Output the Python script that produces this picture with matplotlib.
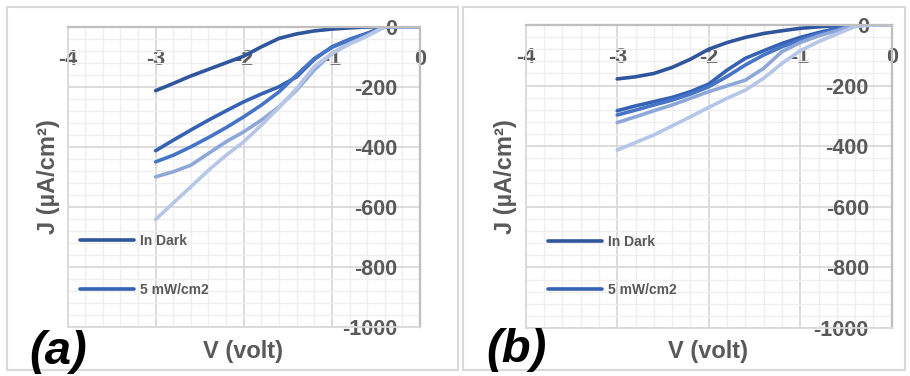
import matplotlib
matplotlib.use("Agg")
import matplotlib.pyplot as plt
from matplotlib.patches import Rectangle
from matplotlib.ticker import MultipleLocator

plt.rcParams['font.family'] = ['Liberation Sans', 'DejaVu Sans']
plt.rcParams['font.weight'] = 'bold'

# Bias voltage (V), shared by every curve
volts = [-3.0, -2.8, -2.6, -2.4, -2.2, -2.0, -1.8, -1.6, -1.4, -1.2,
         -1.0, -0.8, -0.6, -0.4, -0.2, 0.0]

# Current density (uA/cm2), panel (a)
a_dark = [-213, -189, -164, -142, -120, -98, -67, -39, -24, -14, -8, -4, -1, 0, 0, 0]
a_s2 = [-413, -378, -344, -311, -280, -250, -224, -200, -167, -109, -67, -42, -22, 0, 0, 0]
a_s3 = [-450, -428, -400, -369, -336, -300, -261, -217, -161, -106, -69, -44, -24, 0, 0, 0]
a_s4 = [-500, -483, -461, -422, -383, -350, -311, -267, -211, -144, -89, -56, -30, 0, 0, 0]
a_s5 = [-642, -587, -533, -478, -428, -383, -328, -269, -206, -133, -89, -58, -31, 0, 0, 0]

# Current density (uA/cm2), panel (b)
b_dark = [-178, -171, -160, -140, -113, -80, -58, -41, -28, -19, -11, -6, -2, 0, 0, 0]
b_s2 = [-283, -267, -253, -239, -220, -195, -149, -110, -85, -61, -41, -25, -11, 0, 0, 0]
b_s3 = [-297, -281, -264, -248, -228, -204, -170, -132, -99, -72, -50, -30, -14, 0, 0, 0]
b_s4 = [-322, -303, -283, -264, -242, -220, -201, -182, -143, -88, -58, -36, -19, 0, 0, 0]
b_s5 = [-413, -388, -363, -333, -303, -272, -242, -215, -176, -127, -85, -55, -30, -5, 0, 0]

legend_labels = ["In Dark", "5 mW/cm2"]
colors = ["#2F559D", "#3562B5", "#4674C6", "#8EA7D9", "#B6C6E7"]

x_ticks = [-4, -3, -2, -1, 0]
y_ticks = [0, -200, -400, -600, -800, -1000]

TXT = "#595959"


def draw_panel(ax, series, leg_x, ylab_x, xlab_y):
    for ys, c in zip(series, colors):
        ax.plot(volts, ys, color=c, lw=2.6, solid_capstyle="round",
                solid_joinstyle="round")

    ax.set_xlim(-4, 0)
    ax.set_ylim(-1000, 0)
    ax.set_xticks(x_ticks)
    ax.set_yticks(y_ticks)
    ax.set_xticklabels([str(t) for t in x_ticks])
    ax.set_yticklabels([str(t) for t in y_ticks])
    ax.xaxis.set_minor_locator(MultipleLocator(0.2))
    ax.yaxis.set_minor_locator(MultipleLocator(40))

    ax.grid(which="major", color="#d9d9d9", lw=1.3)
    ax.grid(which="minor", color="#efefef", lw=1.0)
    ax.set_axisbelow(True)

    # axes cross at the top-right corner, labels sit inside the plot area
    ax.xaxis.tick_top()
    ax.yaxis.tick_right()
    ax.tick_params(which="both", length=0)
    ax.tick_params(axis="x", labelsize=15.5, labelcolor=TXT, pad=-23.5)
    ax.tick_params(axis="y", labelsize=15.5, labelcolor=TXT, pad=-16.5)
    for lab in ax.get_xticklabels():
        lab.set_va("center")
        lab.set_fontweight("bold")
    for lab in ax.get_yticklabels():
        lab.set_ha("right")
        lab.set_fontweight("bold")

    for side in ["left", "bottom"]:
        ax.spines[side].set_color("#d9d9d9")
        ax.spines[side].set_linewidth(1.3)
    for side in ["top", "right"]:
        ax.spines[side].set_color("#bfbfbf")
        ax.spines[side].set_linewidth(1.6)

    ax.set_xlabel("V (volt)", fontsize=17, color=TXT, fontweight="bold")
    ax.xaxis.set_label_position("bottom")
    ax.xaxis.set_label_coords(0.498, xlab_y)
    ax.set_ylabel("J (µA/cm²)", fontsize=17, color=TXT, fontweight="bold")
    ax.yaxis.set_label_position("left")
    ax.yaxis.set_label_coords(ylab_x, 0.5)

    handles = ax.get_lines()[:2]
    leg = ax.legend(handles, legend_labels, loc="center left",
                    bbox_to_anchor=(leg_x, 0.205), frameon=False,
                    fontsize=10, handlelength=3.9, handletextpad=0.4,
                    labelspacing=2.5, borderpad=0, borderaxespad=0)
    for t in leg.get_texts():
        t.set_color(TXT)
        t.set_fontweight("bold")


fig = plt.figure(figsize=(9.1, 3.76), dpi=100)

# panel frames
for x0, x1 in [(7, 458), (463, 905)]:
    fig.add_artist(Rectangle((x0 / 910, 1 - 370 / 376), (x1 - x0) / 910, 363 / 376,
                             transform=fig.transFigure, fill=False,
                             edgecolor="#d9d9d9", lw=1.5))

ax_a = fig.add_axes([67.5 / 910, 1 - 327 / 376, 352.5 / 910, 300.3 / 376])
ax_b = fig.add_axes([525.7 / 910, 1 - 328 / 376, 366 / 910, 303 / 376])

draw_panel(ax_a, [a_dark, a_s2, a_s3, a_s4, a_s5], 0.035, -0.022, -0.043)
draw_panel(ax_b, [b_dark, b_s2, b_s3, b_s4, b_s5], 0.061, -0.024, -0.040)

fig.text(58 / 910, 1 - 352 / 376, "(a)", fontsize=34, fontweight="bold",
         fontstyle="italic", color="black", ha="center", va="center")
fig.text(516 / 910, 1 - 350 / 376, "(b)", fontsize=34, fontweight="bold",
         fontstyle="italic", color="black", ha="center", va="center")

fig.savefig("out.png", dpi=100)
